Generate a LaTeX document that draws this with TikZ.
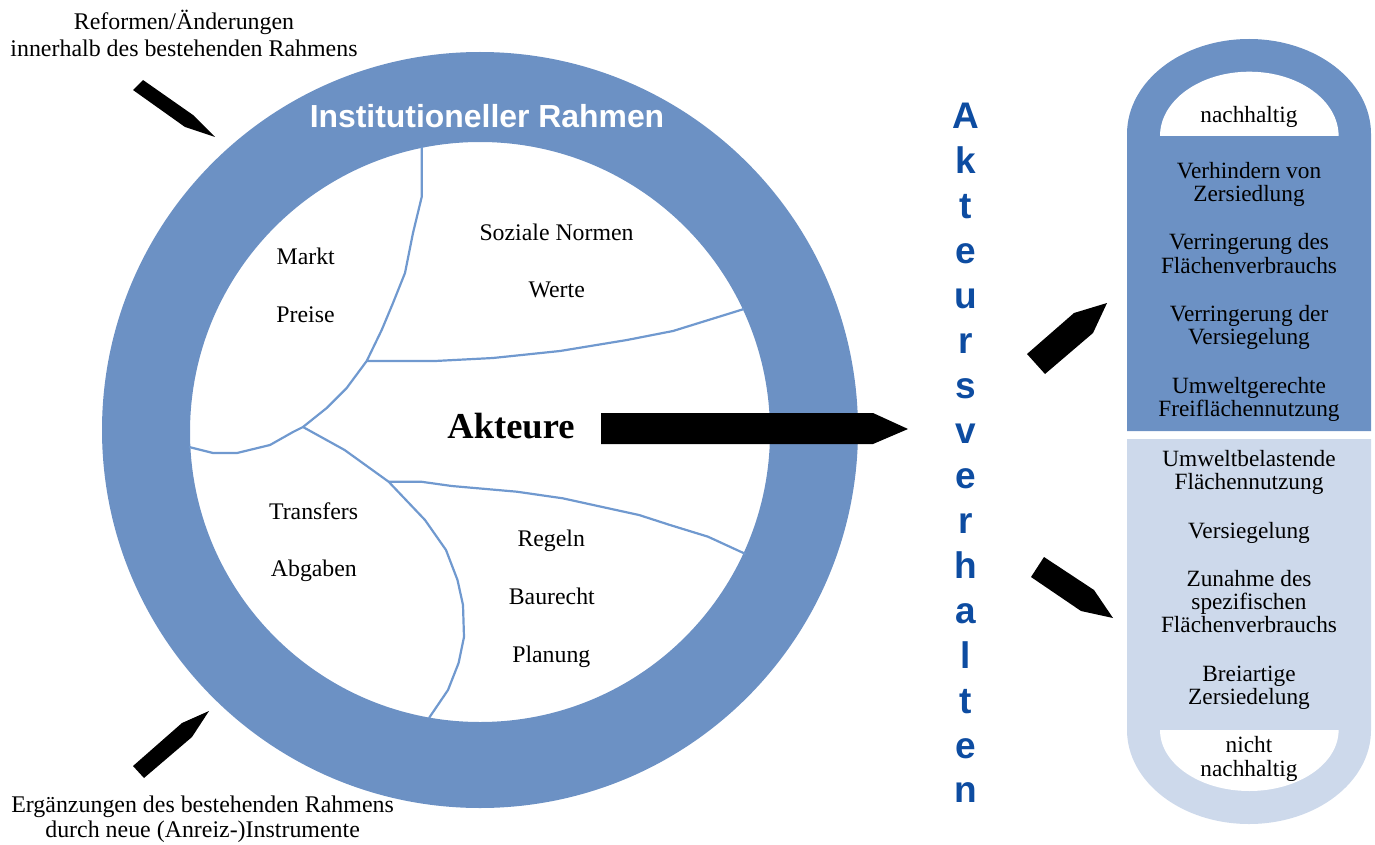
\documentclass[tikz,border=0pt]{standalone}
\usepackage{fontspec}
\setmainfont{Liberation Serif}
\newfontfamily\labelsans{Liberation Sans}
\definecolor{ringblue}{HTML}{6C91C4}
\definecolor{paleblue}{HTML}{CDD9EB}
\definecolor{lineblue}{HTML}{7099CF}
\definecolor{letterblue}{HTML}{0D4CA1}
\begin{document}
\begin{tikzpicture}[x=1pt,y=-1pt,
  lbl/.style={font=\fontsize{23.8}{28}\selectfont, inner sep=0pt, anchor=base},
  note/.style={font=\fontsize{23.9}{#1}\selectfont, align=center, inner sep=0pt,
    execute at begin node=\strut, execute at end node=\strut},
  boxtext/.style={font=\fontsize{23.3}{23.3}\selectfont, align=center, inner sep=0pt,
    execute at begin node=\strut, execute at end node=\strut},
  sector/.style={draw=lineblue, line width=2.2pt, line join=round},
  pointer/.style={fill=black},
  vletter/.style={text=letterblue, font=\labelsans\bfseries\fontsize{37}{40}\selectfont,
    anchor=base, inner sep=0pt},
]
\useasboundingbox (0,0) rectangle (1375,845);

% institutional frame (ring)
\fill[ringblue, even odd rule] (480,430) circle[radius=378] (480,432) circle[radius=290];
\node[anchor=base, inner sep=0pt, text=white,
  font=\labelsans\bfseries\fontsize{31.9}{36}\selectfont] (title) at (487,127.7) {Institutioneller Rahmen};

% sector boundaries inside the ring
\coordinate (jtop) at (366.7,361);
\coordinate (jmid) at (303,427);
\coordinate (jlow) at (388.6,481.7);
\draw[sector] (421.7,147) -- (421.7,197) -- (413,233) -- (405,273) -- (393,303) -- (381.7,330)
  -- (jtop) -- (346.7,388) -- (326.7,408) -- (jmid) -- (293,432) -- (270,445) -- (237,453)
  -- (213,453) -- (189,447);
\draw[sector] (jtop) -- (435,361) -- (493,358) -- (560,351) -- (627,340) -- (673,331) -- (744,309);
\draw[sector] (jmid) -- (344.6,450) -- (jlow) -- (425,520) -- (446,550) -- (457.5,580)
  -- (463,605) -- (464,637) -- (458.6,663) -- (448,690) -- (429,718);
\draw[sector] (jlow) -- (421,481.7) -- (451.7,486) -- (516.8,491.7) -- (562.7,498.3)
  -- (601,506.7) -- (639,515) -- (670,525) -- (708,536.7) -- (745.6,554);

% sector labels
\node[lbl] (markt) at (305.7,264.3) {Markt};
\node[lbl] (preise) at (305.5,322.7) {Preise};
\node[lbl] (normen) at (556.5,240) {Soziale Normen};
\node[lbl] (werte) at (556.7,297.7) {Werte};
\node[lbl] (transfers) at (313.6,519.3) {Transfers};
\node[lbl] (abgaben) at (313.9,576.7) {Abgaben};
\node[lbl] (regeln) at (551.2,546.7) {Regeln};
\node[lbl] (baurecht) at (551.8,604) {Baurecht};
\node[lbl] (planung) at (551.3,662.3) {Planung};
\node[anchor=base, inner sep=0pt, font=\bfseries\fontsize{36.5}{40}\selectfont] (akteure) at (511,438.7) {Akteure};

% main arrow from the actors to their behaviour
\fill[pointer] (601,413) -- (873,413) -- (908,429) -- (873,444) -- (601,444) -- cycle;

% outer notes and their pointers
\node[note=27.3] (reform) at (184,37.5) {Reformen/Änderungen\\innerhalb des bestehenden Rahmens};
\node[note=25] (ergaenz) at (202.6,820.8) {Ergänzungen des bestehenden Rahmens\\durch neue (Anreiz-)Instrumente};
\fill[pointer] (133,90) -- (143,80) -- (193,115) -- (215,137) -- (185,127) -- cycle;
\fill[pointer] (133,766) -- (144,778) -- (192,737) -- (209,711) -- (182,723) -- cycle;

% vertical caption
\foreach \ch [count=\i from 0] in {A,k,t,e,u,r,s,v,e,r,h,a,l,t,e,n}
  \node[vletter] (v\i) at (966,129+44.93*\i) {\ch};

% pointers to the two outcome groups
\fill[pointer] (1027,354) -- (1045,374) -- (1093,333) -- (1107,303) -- (1074,313) -- cycle;
\fill[pointer] (1031,577) -- (1044,557) -- (1094,590) -- (1113,618) -- (1081,611) -- cycle;

% outcome capsule: sustainable (upper) part
\fill[ringblue] (1127,431) -- (1127,134) arc[start angle=180, end angle=360, x radius=122, y radius=95]
  -- (1371,431) -- cycle;
\fill[white] (1160,136) arc[start angle=180, end angle=360, x radius=89.3, y radius=64.3] -- cycle;
% non-sustainable (lower) part
\fill[paleblue] (1127,439) -- (1127,730) arc[start angle=180, end angle=0, x radius=122, y radius=94]
  -- (1371,439) -- cycle;
\fill[white] (1160,730) arc[start angle=180, end angle=0, x radius=89.3, y radius=61] -- cycle;

\node[boxtext] (nh) at (1249,118) {nachhaltig};
\node[boxtext] (o1) at (1249,185.4) {Verhindern von\\Zersiedlung};
\node[boxtext] (o2) at (1249,257) {Verringerung des\\Flächenverbrauchs};
\node[boxtext] (o3) at (1249,328.7) {Verringerung der\\Versiegelung};
\node[boxtext] (o4) at (1249,400.4) {Umweltgerechte\\Freiflächennutzung};
\node[boxtext] (u1) at (1249,473.4) {Umweltbelastende\\Flächennutzung};
\node[boxtext] (u2) at (1249,533.7) {Versiegelung};
\node[boxtext] (u3) at (1249,605) {Zunahme des\\spezifischen\\Flächenverbrauchs};
\node[boxtext] (u4) at (1249,688.7) {Breiartige\\Zersiedelung};
\node[boxtext] (nnh) at (1249,760) {nicht\\nachhaltig};
\end{tikzpicture}
\end{document}
